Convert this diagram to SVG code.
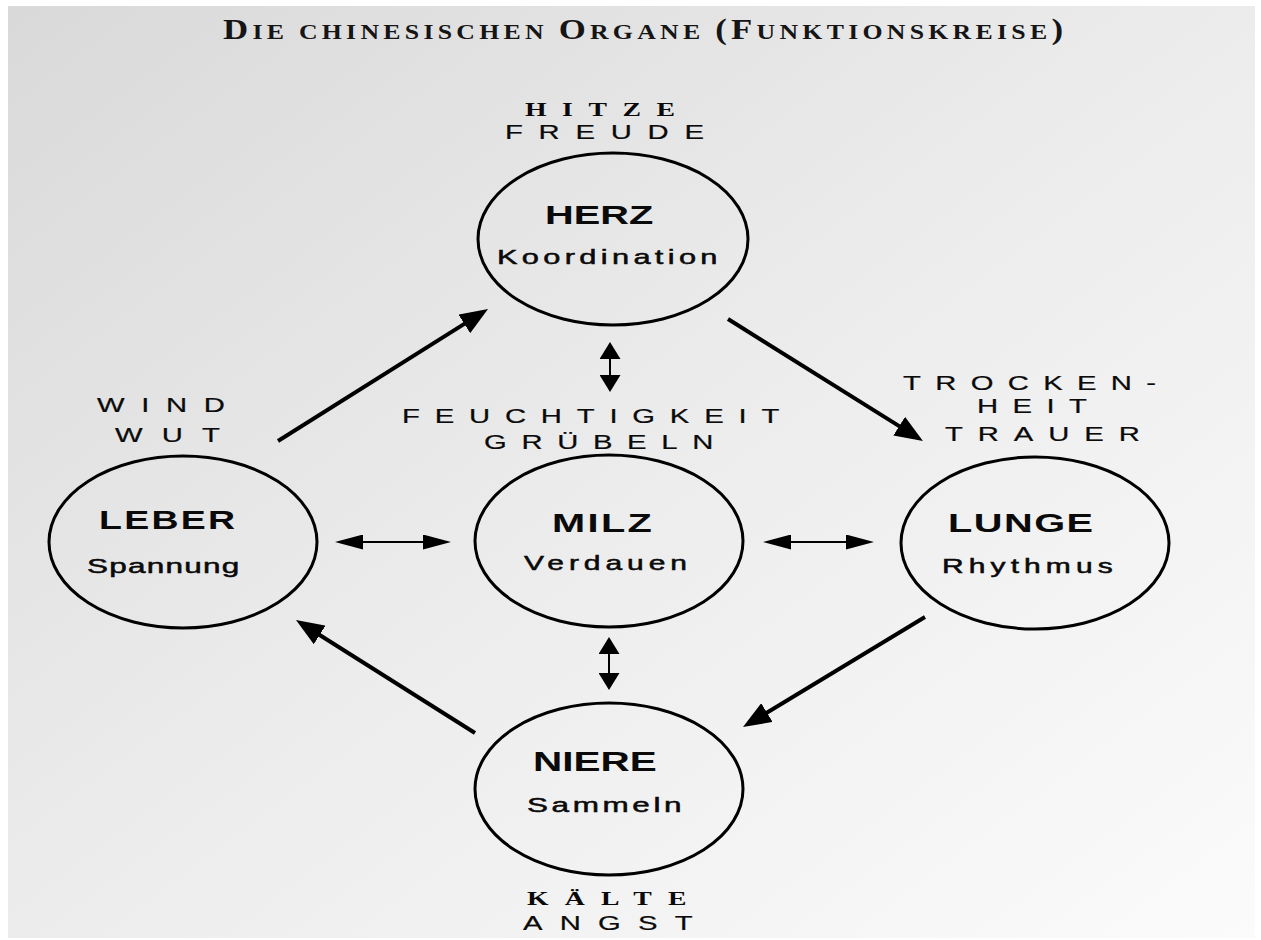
<svg xmlns="http://www.w3.org/2000/svg" width="1261" height="940" viewBox="0 0 1261 940">
<defs>
<linearGradient id="bg" x1="0" y1="0" x2="1" y2="1">
<stop offset="0" stop-color="#d9d9d9"/>
<stop offset="0.5" stop-color="#ececec"/>
<stop offset="1" stop-color="#fbfbfb"/>
</linearGradient>
<marker id="big" viewBox="0 0 28 22" refX="8" refY="11" markerWidth="28" markerHeight="22" markerUnits="userSpaceOnUse" orient="auto">
<path d="M0,0 L28,11 L0,22 z" fill="#000"/>
</marker>
<marker id="hd" viewBox="0 0 28 15" refX="6" refY="7.5" markerWidth="28" markerHeight="15" markerUnits="userSpaceOnUse" orient="auto-start-reverse">
<path d="M0,0 L28,7.5 L0,15 z" fill="#000"/>
</marker>
<marker id="vd" viewBox="0 0 17 21" refX="4" refY="10.5" markerWidth="17" markerHeight="21" markerUnits="userSpaceOnUse" orient="auto-start-reverse">
<path d="M0,0 L17,10.5 L0,21 z" fill="#000"/>
</marker>
</defs>
<style>
.node ellipse{fill:none;stroke:#000;stroke-width:3}
.name{font-family:"Liberation Sans",Arial,sans-serif;font-weight:bold;fill:#0a0a0a}
.sub{font-family:"Liberation Sans",Arial,sans-serif;fill:#0a0a0a;stroke:#0a0a0a;stroke-width:0.5}
.lab{font-family:"Liberation Sans",Arial,sans-serif;fill:#0a0a0a;font-size:19.5px;stroke:#0a0a0a;stroke-width:0.2}
.slab{font-family:"Liberation Serif","Times New Roman",serif;font-weight:bold;fill:#0a0a0a;font-size:18.5px}
.thick{stroke:#000;stroke-width:4;fill:none;marker-end:url(#big)}
.hthin{stroke:#000;stroke-width:2;fill:none;marker-start:url(#hd);marker-end:url(#hd)}
.vthin{stroke:#000;stroke-width:2;fill:none;marker-start:url(#vd);marker-end:url(#vd)}
.title{font-family:"Liberation Serif","Times New Roman",serif;font-weight:bold;font-size:29px;fill:#151515}
.sc{font-size:21.5px}
</style>
<rect x="0" y="0" width="1261" height="940" fill="#ffffff"/>
<rect x="8" y="6" width="1247" height="932" fill="url(#bg)"/>

<text class="title" transform="matrix(1.2,0,0,1,223,39)" textLength="700" lengthAdjust="spacing">D<tspan class="sc">IE CHINESISCHEN </tspan>O<tspan class="sc">RGANE </tspan>(F<tspan class="sc">UNKTIONSKREISE</tspan>)</text>

<g id="connectors">
<line class="thick" x1="278" y1="441" x2="471.1" y2="319.6"/>
<line class="thick" x1="728" y1="319" x2="906" y2="430.4"/>
<line class="thick" x1="925" y1="617" x2="760.1" y2="716.7"/>
<line class="thick" x1="475" y1="733" x2="312.9" y2="630.7"/>
<line class="hthin" x1="357" y1="542" x2="429" y2="542"/>
<line class="hthin" x1="785" y1="542" x2="852" y2="542"/>
<line class="vthin" x1="610" y1="355" x2="610" y2="379"/>
<line class="vthin" x1="609" y1="650" x2="609" y2="677"/>
</g>

<g id="herz" class="node">
<ellipse cx="613" cy="239" rx="135" ry="86"/>
<text class="slab" transform="matrix(1.5,0,0,1,525,116)" letter-spacing="10.35">HITZE</text>
<text class="lab" font-size="18" transform="matrix(1.5,0,0,1,505,139)" letter-spacing="10.5">FREUDE</text>
<text class="name" font-size="26.5" transform="matrix(1.5,0,0,1,545,224)">HERZ</text>
<text class="sub" font-size="20.5" transform="matrix(1.5,0,0,1,497,264)" letter-spacing="2.9">Koordination</text>
</g>

<g id="leber" class="node">
<ellipse cx="183" cy="542" rx="134" ry="86"/>
<text class="lab" transform="matrix(1.5,0,0,1,97,412)" letter-spacing="11.1">WIND</text>
<text class="lab" transform="matrix(1.5,0,0,1,115,442)" letter-spacing="12.8">WUT</text>
<text class="name" font-size="25" transform="matrix(1.5,0,0,1,99,529)" letter-spacing="1.5">LEBER</text>
<text class="sub" font-size="21" transform="matrix(1.5,0,0,1,87,573)" letter-spacing="0.84">Spannung</text>
</g>

<g id="milz" class="node">
<ellipse cx="609" cy="541" rx="134" ry="86"/>
<text class="lab" font-size="20" transform="matrix(1.5,0,0,1,402,423)" letter-spacing="9.87">FEUCHTIGKEIT</text>
<text class="lab" font-size="20" transform="matrix(1.5,0,0,1,484,449)" letter-spacing="9.77">GRÜBELN</text>
<text class="name" font-size="26.5" transform="matrix(1.5,0,0,1,552,532)" letter-spacing="1.6">MILZ</text>
<text class="sub" font-size="20" transform="matrix(1.5,0,0,1,524,570)" letter-spacing="3.3">Verdauen</text>
</g>

<g id="lunge" class="node">
<ellipse cx="1035" cy="543" rx="134" ry="86"/>
<text class="lab" transform="matrix(1.5,0,0,1,903,390)" letter-spacing="9.56">TROCKEN-</text>
<text class="lab" transform="matrix(1.5,0,0,1,977,413)" letter-spacing="9.6">HEIT</text>
<text class="lab" transform="matrix(1.5,0,0,1,945,441)" letter-spacing="9.96">TRAUER</text>
<text class="name" font-size="26.5" transform="matrix(1.5,0,0,1,948,532)" letter-spacing="1">LUNGE</text>
<text class="sub" font-size="20" transform="matrix(1.5,0,0,1,942,573)" letter-spacing="3.4">Rhythmus</text>
</g>

<g id="niere" class="node">
<ellipse cx="609" cy="789" rx="134" ry="86"/>
<text class="name" font-size="27" transform="matrix(1.5,0,0,1,533,771)">NIERE</text>
<text class="sub" font-size="21" transform="matrix(1.5,0,0,1,527,812)" letter-spacing="2.4">Sammeln</text>
<text class="slab" transform="matrix(1.5,0,0,1,527,905)" letter-spacing="10.8">KÄLTE</text>
<text class="lab" transform="matrix(1.5,0,0,1,523,930)" letter-spacing="11.5">ANGST</text>
</g>
</svg>
